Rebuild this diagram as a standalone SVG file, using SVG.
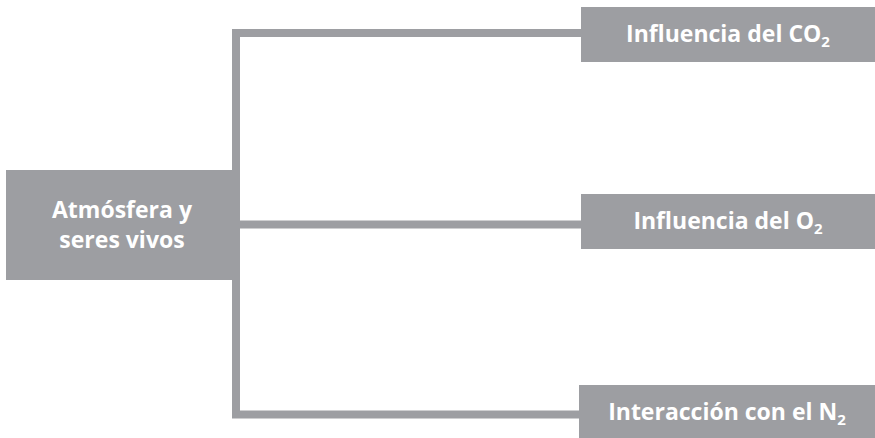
<svg xmlns="http://www.w3.org/2000/svg" width="875" height="438" viewBox="0 0 875 438">
<style>
.box{fill:#9d9ea2}
.ln{fill:#9d9ea2}
.t{fill:#ffffff;font-family:"Open Sans","Liberation Sans",sans-serif;font-weight:bold;font-size:23px;text-anchor:middle}
.sub{font-size:15px}
</style>
<g id="connectors">
<rect class="ln" x="232" y="29" width="8" height="389"/>
<rect class="ln" x="232" y="29" width="350" height="8"/>
<rect class="ln" x="236" y="220.5" width="346" height="8"/>
<rect class="ln" x="232" y="410.5" width="348" height="8"/>
</g>
<g id="root">
<rect class="box" x="6" y="170" width="230" height="110"/>
<text class="t" x="122" y="218">Atmósfera y</text>
<text class="t" x="122" y="248">seres vivos</text>
</g>
<g id="co2">
<rect class="box" x="581" y="7" width="294" height="55"/>
<text class="t" x="728" y="42">Influencia del CO<tspan class="sub" dy="5">2</tspan></text>
</g>
<g id="o2">
<rect class="box" x="581" y="194" width="294" height="55"/>
<text class="t" x="728" y="229">Influencia del O<tspan class="sub" dy="5">2</tspan></text>
</g>
<g id="n2">
<rect class="box" x="579" y="385" width="296" height="53"/>
<text class="t" x="727" y="420">Interacción con el N<tspan class="sub" dy="5">2</tspan></text>
</g>
</svg>
